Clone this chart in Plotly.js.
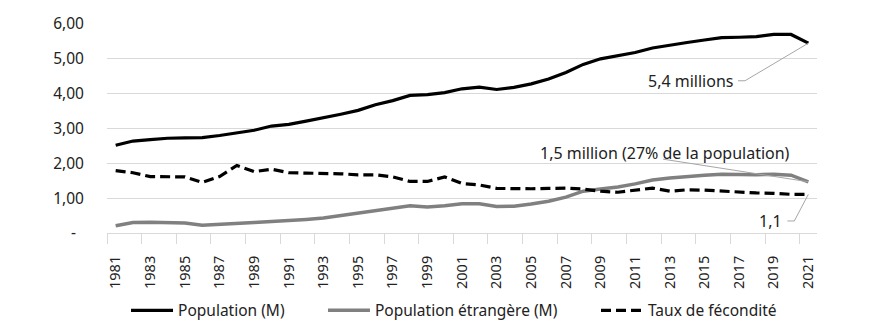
<!DOCTYPE html>
<html><head><meta charset="utf-8">
<script src="https://cdn.plot.ly/plotly-3.0.1.min.js"></script>
<style>html,body{margin:0;padding:0;background:#fff}#chart{width:893px;height:329px}</style>
</head><body><div id="chart"></div>
<script>
const years = [1981,1982,1983,1984,1985,1986,1987,1988,1989,1990,
               1991,1992,1993,1994,1995,1996,1997,1998,1999,2000,
               2001,2002,2003,2004,2005,2006,2007,2008,2009,2010,
               2011,2012,2013,2014,2015,2016,2017,2018,2019,2020,2021];
const population = [2.52,2.64,2.68,2.72,2.73,2.74,2.80,2.87,2.95,3.07,
                    3.12,3.21,3.30,3.41,3.52,3.68,3.80,3.95,3.97,4.03,
                    4.14,4.19,4.12,4.18,4.28,4.42,4.61,4.84,5.00,5.09,
                    5.18,5.31,5.40,5.47,5.54,5.61,5.62,5.64,5.70,5.70,5.45];
const foreignPop = [0.21,0.30,0.31,0.31,0.29,0.22,0.24,0.27,0.30,0.33,
                    0.35,0.39,0.43,0.50,0.57,0.65,0.72,0.78,0.75,0.78,
                    0.84,0.84,0.76,0.77,0.83,0.91,1.03,1.20,1.26,1.32,
                    1.41,1.52,1.58,1.63,1.66,1.69,1.68,1.67,1.69,1.66,1.47];
const fertility = [1.79,1.73,1.62,1.62,1.61,1.45,1.62,1.94,1.76,1.83,
                   1.73,1.72,1.72,1.70,1.67,1.67,1.61,1.48,1.48,1.61,
                   1.42,1.38,1.28,1.27,1.27,1.28,1.29,1.26,1.20,1.17,
                   1.22,1.29,1.20,1.24,1.23,1.20,1.16,1.15,1.14,1.11,1.11];
const seriesNames = ['Population (M)', 'Population étrangère (M)', 'Taux de fécondité'];
const yTickVals = [0,1,2,3,4,5,6];
const yTickText = ['-\u00a0\u00a0','1,00','2,00','3,00','4,00','5,00','6,00'];
const xTickVals = years.filter((y,i) => i % 2 === 0);
const xTickText = xTickVals.map(String);
const labelPop = '5,4 millions';
const labelForeign = '1,5 million (27% de la population)';
const labelFert = '1,1';

const FONT = '"Noto Sans", "Open Sans", sans-serif';
const TXT = '#222222';
const LEAD = '#a6a6a6';
const last = years.length - 1;
const lastYear = years[last];

const traces = [
  {x: years, y: population, name: seriesNames[0], type: 'scatter', mode: 'lines', legend: 'legend',
   line: {color: '#000000', width: 3.2}},
  {x: years, y: foreignPop, name: seriesNames[1], type: 'scatter', mode: 'lines', legend: 'legend2',
   line: {color: '#808080', width: 3.5}},
  {x: years, y: fertility, name: seriesNames[2], type: 'scatter', mode: 'lines', legend: 'legend3',
   line: {color: '#000000', width: 3.2, dash: '10px,5px'}}
];

const legendBase = {orientation: 'h', yanchor: 'middle', y: -0.372, xanchor: 'left',
  font: {family: FONT, size: 15.5, color: TXT}, bgcolor: 'rgba(0,0,0,0)', itemwidth: 42};

const layout = {
  width: 893, height: 329,
  margin: {l: 107, r: 76, t: 24, b: 96, autoexpand: false},
  paper_bgcolor: '#ffffff', plot_bgcolor: '#ffffff',
  font: {family: FONT, size: 15.5, color: TXT},
  showlegend: true,
  legend: Object.assign({}, legendBase, {x: 0.0268}),
  legend2: Object.assign({}, legendBase, {x: 0.3042}),
  legend3: Object.assign({}, legendBase, {x: 0.6887}),
  xaxis: {
    range: [1980.5, 2021.5], tickmode: 'array', tickvals: xTickVals, ticktext: xTickText,
    tickangle: -90, ticks: '', showgrid: false, zeroline: false,
    showline: true, linecolor: '#d9d9d9', linewidth: 1, automargin: false,
    ticklabelstandoff: 16,
    tickfont: {family: FONT, size: 14.5, color: TXT},
    minor: {tick0: 1980.5, dtick: 2, ticks: 'outside', ticklen: 10, tickcolor: '#d9d9d9', tickwidth: 1, showgrid: false}
  },
  yaxis: {
    range: [0, 6], tickmode: 'array', tickvals: yTickVals, ticktext: yTickText,
    showgrid: true, gridcolor: '#d9d9d9', gridwidth: 1, zeroline: false, showline: false,
    ticks: '', ticklabelstandoff: 22, automargin: false,
    tickfont: {family: FONT, size: 15.5, color: TXT}
  },
  annotations: [
    {x: 2014.17, y: 4.37, xref: 'x', yref: 'y', text: labelPop, showarrow: false,
     font: {family: FONT, size: 16, color: TXT}},
    {x: 2012.72, y: 2.29, xref: 'x', yref: 'y', text: labelForeign, showarrow: false,
     font: {family: FONT, size: 16, color: TXT}},
    {x: 2018.81, y: 0.345, xref: 'x', yref: 'y', text: labelFert, showarrow: false,
     font: {family: FONT, size: 16, color: TXT}}
  ],
  shapes: [
    {type: 'path', xref: 'x', yref: 'y', line: {color: LEAD, width: 1},
     path: `M 2016.94,4.37 L 2017.34,4.37 L ${lastYear},${population[last]}`},
    {type: 'path', xref: 'x', yref: 'y', line: {color: LEAD, width: 1},
     path: `M 2012.61,2.12 L ${lastYear},${foreignPop[last]}`},
    {type: 'path', xref: 'x', yref: 'y', line: {color: LEAD, width: 1},
     path: `M 2019.79,0.345 L 2020.19,0.345 L ${lastYear},${fertility[last]}`}
  ]
};

Plotly.newPlot('chart', traces, layout, {displayModeBar: false, staticPlot: true});
</script>
</body></html>
